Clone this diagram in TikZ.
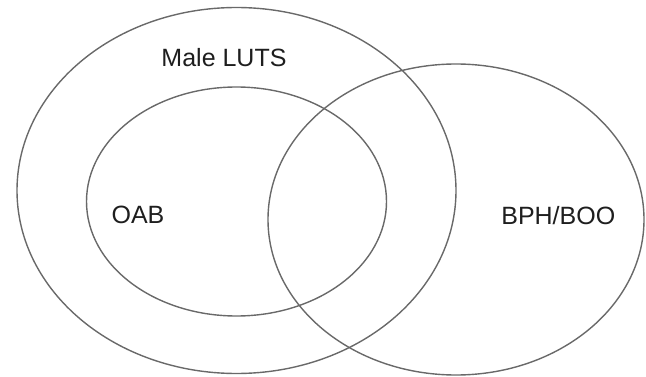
\documentclass[tikz,border=0pt]{standalone}
\usepackage{fontspec}
\setmainfont{Liberation Sans}
\begin{document}
\begin{tikzpicture}[x=1pt,y=-1pt,
  setline/.style={draw={rgb,255:red,105;green,105;blue,105}, line width=1.4pt},
  setlabel/.style={anchor=base, inner sep=0pt, text={rgb,255:red,30;green,30;blue,30},
    font=\fontsize{25}{30}\selectfont}]
  \useasboundingbox (0,0) rectangle (646,377);
  % Male LUTS (outer set)
  \draw[setline] (236.5,190.5) ellipse [x radius=219.5, y radius=183];
  % OAB (subset of Male LUTS)
  \draw[setline] (236.5,201.5) ellipse [x radius=150, y radius=114.5];
  % BPH/BOO
  \draw[setline] (456,219.5) ellipse [x radius=188, y radius=155.5];
  % labels
  \node[setlabel] (luts) at (224,66.7) {Male LUTS};
  \node[setlabel] (oab) at (138,223.5) {OAB};
  \node[setlabel] (bph) at (558.3,224.5) {BPH/BOO};
\end{tikzpicture}
\end{document}
